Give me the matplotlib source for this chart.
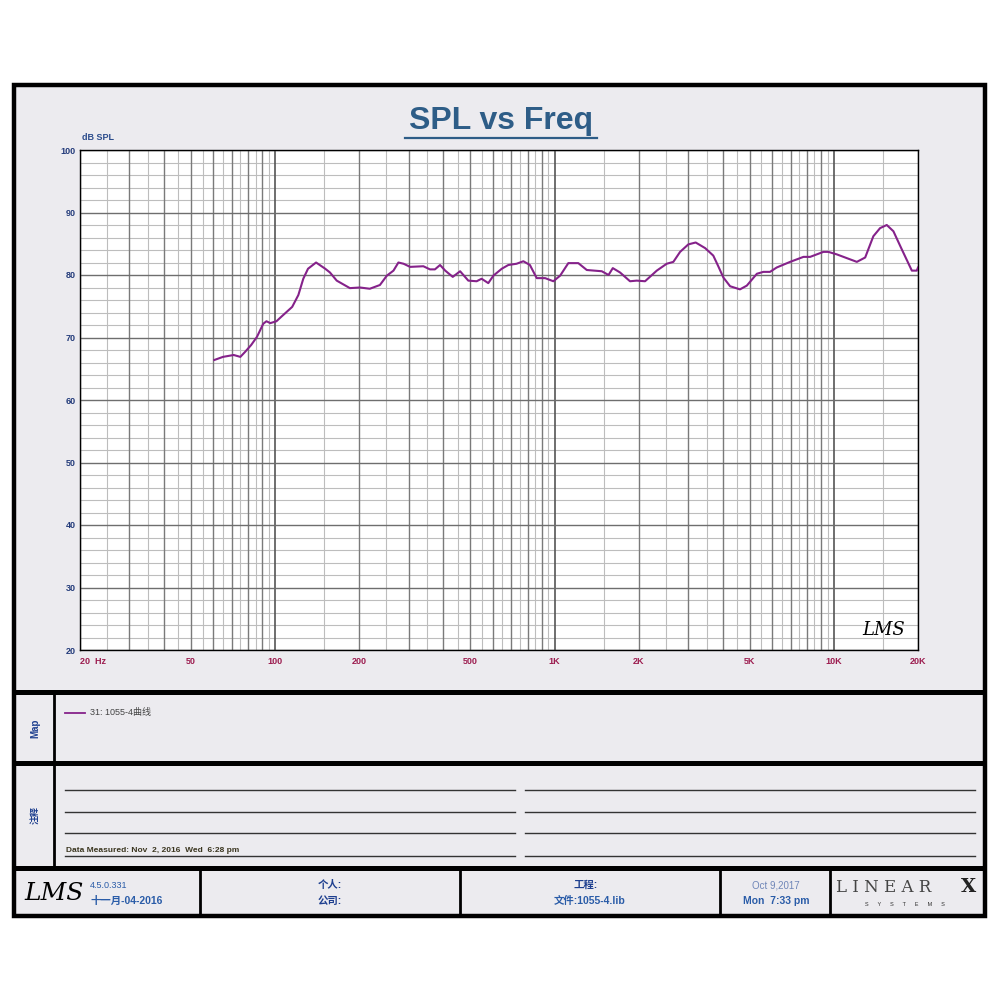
import matplotlib
matplotlib.use("Agg")
import matplotlib.pyplot as plt
from matplotlib.patches import Rectangle
import numpy as np

plt.rcParams['font.family'] = ['Liberation Sans', 'Noto Sans CJK SC', 'DejaVu Sans']

# ---------------- data ----------------
freq_hz = [60.5, 65, 71, 75, 78, 82, 86, 90.6, 93, 96, 101, 105, 115, 121, 126, 131, 140,
           151, 157, 166, 185, 201, 218, 237, 251, 265, 276, 288, 304, 339, 358, 373, 389,
           406, 432, 459, 491, 526, 548, 579, 604, 647, 683, 731, 773, 816, 863, 925, 990,
           1047, 1120, 1216, 1304, 1476, 1560, 1616, 1716, 1862, 1968, 2108, 2322, 2520,
           2662, 2814, 3012, 3200, 3460, 3700, 3855, 4020, 4250, 4610, 4877, 5300, 5590,
           5904, 6240, 6970, 7780, 8220, 9170, 9550, 10240, 12080, 12940, 13840, 14630,
           15460, 16330, 17500, 19010, 19810, 20000]
spl_db = [66.4, 66.9, 67.2, 66.9, 67.7, 68.8, 70.1, 72.2, 72.6, 72.3, 72.6, 73.3, 74.9,
          76.8, 79.4, 81.0, 82.0, 81.0, 80.4, 79.1, 77.9, 78.0, 77.8, 78.4, 79.9, 80.7,
          82.0, 81.8, 81.3, 81.4, 80.9, 80.9, 81.6, 80.7, 79.7, 80.6, 79.1, 79.0, 79.4,
          78.7, 79.9, 81.0, 81.6, 81.8, 82.2, 81.6, 79.5, 79.5, 79.0, 79.9, 81.9, 81.9,
          80.8, 80.6, 80.0, 81.1, 80.4, 79.0, 79.1, 79.0, 80.7, 81.8, 82.1, 83.7, 84.9,
          85.2, 84.3, 83.1, 81.4, 79.6, 78.2, 77.7, 78.3, 80.2, 80.5, 80.5, 81.2, 82.1,
          82.9, 82.9, 83.7, 83.7, 83.3, 82.1, 82.8, 86.2, 87.5, 88.0, 87.0, 84.1, 80.7,
          80.7, 81.2]

x_ticks = [20, 50, 100, 200, 500, 1000, 2000, 5000, 10000, 20000]
x_tick_labels = ['20  Hz', '50', '100', '200', '500', '1K', '2K', '5K', '10K', '20K']
y_ticks = [20, 30, 40, 50, 60, 70, 80, 90, 100]
y_tick_labels = ['20', '30', '40', '50', '60', '70', '80', '90', '100']

title = 'SPL vs Freq'
y_unit = 'dB SPL'
legend_label = '31: 1055-4曲线'
measured = 'Data Measured: Nov  2, 2016  Wed  6:28 pm'

CURVE = '#85228A'
NAVY = '#233B7A'
XLAB = '#9C1C4F'
BLUE = '#2A5CA8'
BG = '#ECEBEF'

fig = plt.figure(figsize=(10, 10), dpi=100)
fig.patch.set_facecolor('white')

# background/frame axes in pixel coordinates
bg = fig.add_axes([0, 0, 1, 1], zorder=0)
bg.set_xlim(0, 1000)
bg.set_ylim(1000, 0)
bg.axis('off')

bg.add_patch(Rectangle((14, 85), 971, 831, fc=BG, ec='none'))
# separators
for yy in (692, 763, 868):
    bg.plot([14, 985], [yy, yy], color='black', lw=3.6, solid_capstyle='butt')
bg.plot([54, 54], [692, 868], color='black', lw=2.0)
for xx in (200, 460, 720, 830):
    bg.plot([xx, xx], [868, 916], color='black', lw=2.0)
bg.add_patch(Rectangle((14, 85), 971, 831, fc='none', ec='black', lw=3.2))

# notes lines
for yy in (790, 812, 833, 856):
    bg.plot([65, 515], [yy, yy], color='#333333', lw=1.0)
    bg.plot([525, 975], [yy, yy], color='#333333', lw=1.0)

# title
bg.text(501, 121, title, ha='center', va='center', fontsize=23, fontweight='bold',
        color='#2E5D87')
bg.plot([405, 597], [138, 138], color='#2E5D87', lw=1.6)
bg.text(82, 138, y_unit, ha='left', va='center', fontsize=6.5, fontweight='bold', color='#2B4C8C')

# map panel
bg.text(35, 728, 'Map', rotation=90, ha='center', va='center', fontsize=7,
        fontweight='bold', color='#1E3F8F')
bg.plot([65, 85], [713, 713], color=CURVE, lw=1.3)
bg.text(90, 713, legend_label, ha='left', va='center', fontsize=6.5, color='#444444')

# notes panel
bg.text(35, 815, '注释', rotation=90, ha='center', va='center', fontsize=6.5,
        fontweight='bold', color='#1E3F8F')
bg.text(66, 850, measured, ha='left', va='center', fontsize=6, fontweight='bold',
        color='#3B3620')

# footer
bg.text(24, 893, 'LMS', ha='left', va='center', fontsize=18, fontstyle='italic',
        family='DejaVu Serif', color='black')
bg.text(90, 885, '4.5.0.331', ha='left', va='center', fontsize=6.5, color=BLUE)
bg.text(90, 901, '十一月-04-2016', ha='left', va='center', fontsize=7.5, fontweight='bold', color=BLUE)
bg.text(330, 885, '个人:', ha='center', va='center', fontsize=7.5, fontweight='bold', color='#1E3F8F')
bg.text(330, 901, '公司:', ha='center', va='center', fontsize=7.5, fontweight='bold', color='#1E3F8F')
bg.text(586, 885, '工程:', ha='center', va='center', fontsize=7.5, fontweight='bold', color='#1E3F8F')
bg.text(590, 901, '文件:1055-4.lib', ha='center', va='center', fontsize=7.5, fontweight='bold', color=BLUE)
bg.text(776, 885, 'Oct 9,2017', ha='center', va='center', fontsize=7, color='#6F86B8')
bg.text(776, 901, 'Mon  7:33 pm', ha='center', va='center', fontsize=7.5, fontweight='bold', color=BLUE)
bg.text(836, 887, 'L I N E A R', ha='left', va='center', fontsize=12, family='DejaVu Serif',
        color='#444444')
bg.text(976, 887, 'X', ha='right', va='center', fontsize=14, fontweight='bold',
        family='DejaVu Serif', color='#222222')
bg.text(905, 904, 'S      Y      S      T      E      M      S', ha='center', va='center',
        fontsize=4, color='#333333')

# main plot
ax = fig.add_axes([0.08, 0.35, 0.838, 0.5], zorder=2)
ax.set_xscale('log')
ax.set_xlim(20, 20000)
ax.set_ylim(20, 100)
ax.set_facecolor('white')

# grid
for dec in (10, 100, 1000, 10000):
    for n in range(1, 10):
        f = n * dec
        if 20 <= f <= 20000:
            if n == 1:
                ax.axvline(f, color='#555555', lw=1.2, zorder=1)
            else:
                ax.axvline(f, color='#7A7A7A', lw=1.0, zorder=1)
        fh = (n + 0.5) * dec
        if 20 < fh < 20000:
            ax.axvline(fh, color='#BDBDBD', lw=0.8, zorder=0.5)
for v in range(20, 101, 2):
    if v % 10 == 0:
        ax.axhline(v, color='#6E6E6E', lw=1.0, zorder=1)
    else:
        ax.axhline(v, color='#BDBDBD', lw=0.8, zorder=0.5)

ax.plot(freq_hz, spl_db, color=CURVE, lw=1.5, zorder=3)

ax.set_xticks(x_ticks)
ax.set_xticklabels(x_tick_labels)
ax.xaxis.set_minor_locator(matplotlib.ticker.NullLocator())
ax.set_yticks(y_ticks)
ax.set_yticklabels(y_tick_labels)
ax.tick_params(axis='x', length=0, pad=5, labelsize=6.5, labelcolor=XLAB)
ax.tick_params(axis='y', length=0, pad=3, labelsize=6.5, labelcolor=NAVY)
for lab in ax.get_xticklabels():
    lab.set_fontweight('bold')
for lab in ax.get_yticklabels():
    lab.set_fontweight('bold')
ax.get_xticklabels()[0].set_ha('left')
for s in ax.spines.values():
    s.set_color('black')
    s.set_linewidth(1.0)

ax.text(0.985, 0.04, 'LMS', transform=ax.transAxes, ha='right', va='center',
        fontsize=13, fontstyle='italic', family='DejaVu Serif', color='black', zorder=4)

fig.savefig('out.png', dpi=100, facecolor='white')
